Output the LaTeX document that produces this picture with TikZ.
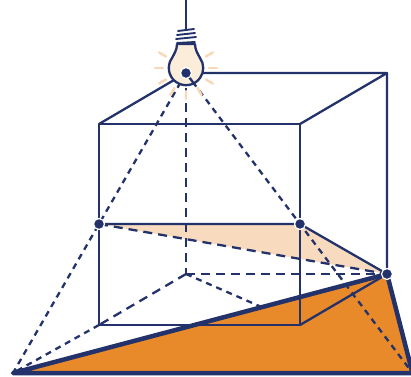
\documentclass[tikz,border=0pt]{standalone}
\usetikzlibrary{calc}
\begin{document}
\begin{tikzpicture}[x=1pt,y=-1pt,
  line join=round,
  edge/.style={draw=navy,line width=2.3pt},
  hidden/.style={draw=navy,line width=2.3pt,dash pattern=on 9pt off 6pt},
  ray/.style={draw=navy,line width=2.3pt,dash pattern=on 6pt off 5pt},
  bold/.style={draw=navy,line width=4.5pt,line cap=round},
  dot/.style={circle,fill=navy,draw=white,line width=1.2pt,minimum size=11pt,inner sep=0pt},
  glow/.style={draw=bulbglow,line width=2.5pt,line cap=round}]
\definecolor{navy}{RGB}{35,50,106}
\definecolor{shadow}{RGB}{232,138,42}
\definecolor{peach}{RGB}{248,219,190}
\definecolor{bulbfill}{RGB}{252,236,218}
\definecolor{bulbglow}{RGB}{248,216,182}
\useasboundingbox (0,0) rectangle (411,376);

% cube corners
\coordinate (A) at (99,124);   % front top left
\coordinate (B) at (300,124);  % front top right
\coordinate (C) at (300,325);  % front bottom right
\coordinate (D) at (99,325);   % front bottom left
\coordinate (L) at (186,73);   % back top left = lamp
\coordinate (F) at (387,73);   % back top right
\coordinate (G) at (387,274);  % back bottom right
\coordinate (H) at (186,274);  % back bottom left
% mid points of the front vertical edges
\coordinate (M1) at (99,224);
\coordinate (M2) at (300,224);
% shadow points on the floor
\coordinate (S1) at (13,373);
\coordinate (S2) at (412.5,373);

% plane through the edge midpoints and its shadow
\fill[peach] (M1) -- (M2) -- (G) -- cycle;
\draw[ray] (H) -- (S2);
\fill[shadow] (S1) -- (G) -- (S2) -- cycle;

% hidden cube edges
\draw[hidden] (L) -- (H);
\draw[hidden] (H) -- (D);
\draw[hidden] (H) -- (G);
\draw[ray] (D) -- (S1);
\draw[hidden] (M1) -- (G);

% light rays
\draw[ray] (L) -- (M1) -- (S1);
\draw[ray] (L) -- (M2) -- (S2);

% visible cube edges
\draw[edge] (A) rectangle (C);
\draw[edge] (A) -- (L) -- (F) -- (B);
\draw[edge] (F) -- (G) -- (C);
\draw[edge] (M1) -- (M2) -- (G);

% shadow outline
\draw[bold] (S1) -- (G) -- (S2) -- cycle;

% lamp
\foreach \a in {150,180,210,240,270,300,330,0,30}
  \draw[glow] ($(186,68)+(\a:-23)$) -- ($(186,68)+(\a:-31)$);
\draw[edge] (186,-2) -- (186,30);
\draw[navy,line width=1.9pt,line cap=round]
  (178,31) -- (194,29)
  (177,35) -- (195,33)
  (176,39) -- (196,37)
  (177,43) -- (195,42);
\draw[edge,fill=bulbfill]
  (177,44) .. controls (177,50) and (174,54) .. (172,58)
  arc[start angle=215.5,end angle=-35.5,radius=17.2]
  .. controls (198,54) and (195,50) .. (195,44) -- cycle;
\draw[navy,line width=2.3pt] (L) -- ($(L)!14pt!(M2)$);

% marked points
\node[dot] (l) at (L) {};
\node[dot] (m1) at (M1) {};
\node[dot] (m2) at (M2) {};
\node[dot] (g) at (G) {};
\end{tikzpicture}
\end{document}
